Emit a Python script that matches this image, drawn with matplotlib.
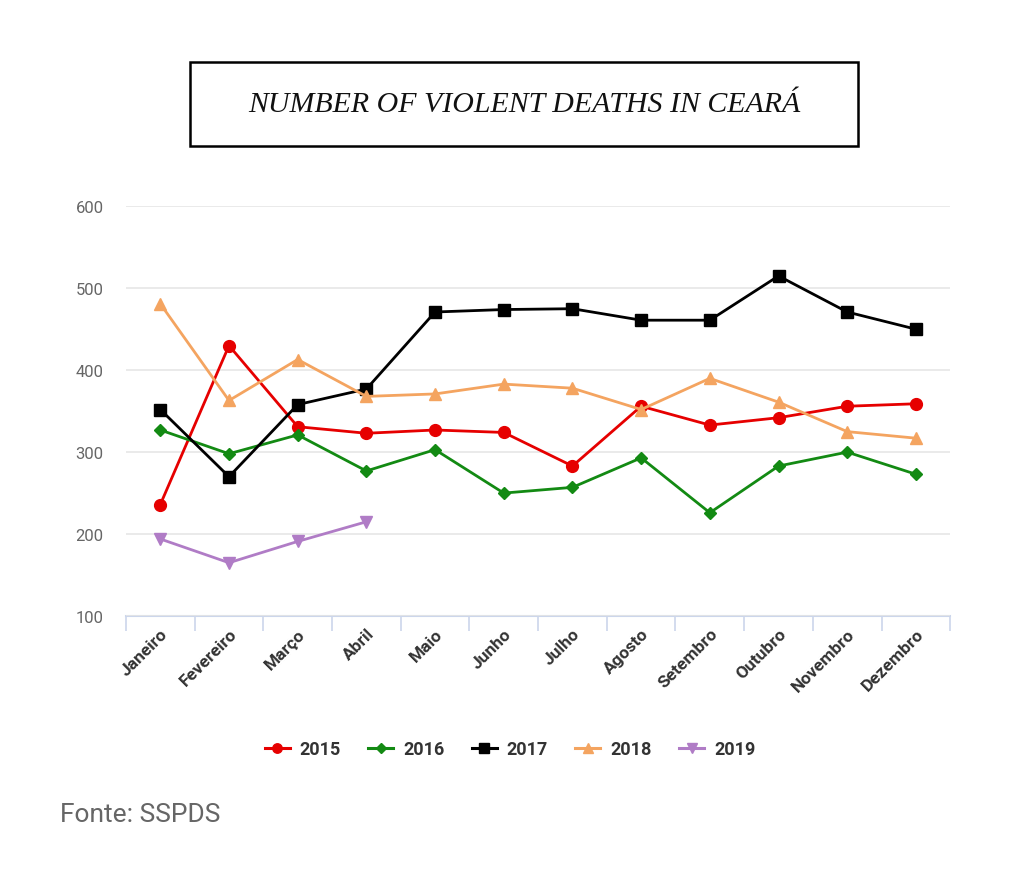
import matplotlib
matplotlib.use("Agg")
import matplotlib.pyplot as plt
from matplotlib.lines import Line2D
from matplotlib.patches import Rectangle

months = ["Janeiro", "Fevereiro", "Março", "Abril", "Maio", "Junho", "Julho",
          "Agosto", "Setembro", "Outubro", "Novembro", "Dezembro"]
y2015 = [236, 430, 331, 323, 327, 324, 283, 356, 333, 342, 356, 359]
y2016 = [327, 298, 321, 277, 303, 250, 257, 293, 226, 283, 300, 273]
y2017 = [352, 270, 358, 377, 471, 474, 475, 461, 461, 515, 471, 450]
y2018 = [481, 363, 413, 368, 371, 383, 378, 352, 390, 361, 325, 317]
y2019 = [194, 165, 191, 215]
years = ["2015", "2016", "2017", "2018", "2019"]
yticks = [100, 200, 300, 400, 500, 600]

series = [y2015, y2016, y2017, y2018, y2019]
colors = ["#e60000", "#138a13", "#000000", "#f4a460", "#b07cc6"]
markers = ["o", "D", "s", "^", "v"]
msizes = [8.5, 6.0, 8.5, 8.5, 8.5]

fig = plt.figure(figsize=(10.24, 8.87), dpi=100)
fig.patch.set_facecolor("white")
ax = fig.add_axes([0.123, 0.3044, 0.805, 0.4619])

for vals, c, m, ms, lab in zip(series, colors, markers, msizes, years):
    ax.plot(range(len(vals)), vals, color=c, marker=m, markersize=ms,
            linewidth=2.0, label=lab, zorder=3)

ax.set_xlim(-0.5, len(months) - 0.5)
ax.set_ylim(yticks[0], yticks[-1])
ax.set_yticks(yticks)
ax.set_yticklabels([str(t) for t in yticks], color="#666666", fontsize=12,
                   family="Roboto")
ax.tick_params(axis="y", length=0, pad=16)
ax.grid(axis="y", color="#e6e6e6", linewidth=1.2, zorder=0)
for s in ["top", "right", "left"]:
    ax.spines[s].set_visible(False)
ax.spines["bottom"].set_color("#ccd6eb")
ax.spines["bottom"].set_linewidth(1.5)
ax.spines["bottom"].set_zorder(1)

# category boundary ticks
ax.set_xticks([i - 0.5 for i in range(len(months) + 1)], minor=False)
ax.set_xticklabels([""] * (len(months) + 1))
ax.tick_params(axis="x", which="major", length=11, color="#ccd6eb", width=1.2)
ax.set_xticks(range(len(months)), minor=True)
ax.set_xticklabels(months, minor=True, rotation=45, ha="right",
                   rotation_mode="anchor", fontsize=12.5, fontweight="bold",
                   color="#333333", family="Roboto")
ax.tick_params(axis="x", which="minor", length=0, pad=7)

handles = [Line2D([0], [0], color=c, marker=m, markersize=ms * 0.8, linewidth=2.2)
           for c, m, ms in zip(colors, markers, msizes)]
leg = fig.legend(handles, years, loc="center", bbox_to_anchor=(0.498, 0.154),
                 ncol=5, frameon=False, handlelength=1.4, columnspacing=1.5,
                 handletextpad=0.55,
                 prop={"family": "Roboto", "weight": "bold", "size": 13})
for t in leg.get_texts():
    t.set_color("#333333")

# title box
fig.patches.append(Rectangle((190 / 1024, 1 - 147 / 887), (858 - 190) / 1024,
                             (147 - 63) / 887, transform=fig.transFigure,
                             fill=False, edgecolor="black", linewidth=1.8))
fig.text(524 / 1024, 1 - 105 / 887, "NUMBER OF VIOLENT DEATHS IN CEARÁ",
         ha="center", va="center", fontsize=21.5, style="italic",
         family="Liberation Serif", color="#111111")

fig.text(60 / 1024, 1 - 815 / 887, "Fonte: SSPDS", ha="left", va="center",
         fontsize=19, color="#666666", family="Roboto")

fig.savefig("out.png", dpi=100, facecolor="white")
